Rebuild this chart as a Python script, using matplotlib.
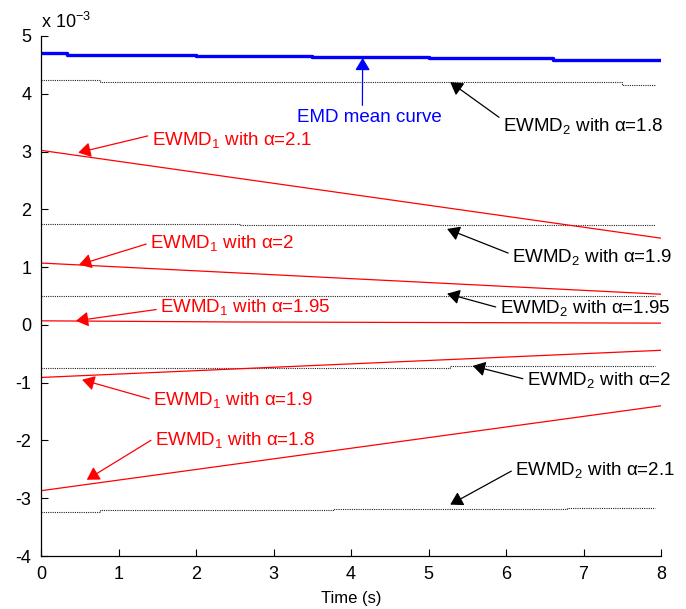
import matplotlib
matplotlib.use("Agg")
import matplotlib.pyplot as plt

plt.rcParams['font.family'] = ['Liberation Sans', 'DejaVu Sans']
plt.rcParams['mathtext.fontset'] = 'custom'
plt.rcParams['mathtext.rm'] = 'Liberation Sans'
plt.rcParams['mathtext.it'] = 'Liberation Sans'
plt.rcParams['axes.unicode_minus'] = False

# values in units of 1e-3
emd_x = [0, 0.33, 2.0, 3.5, 5.0, 6.6, 8.0]
emd_y = [4.70, 4.67, 4.65, 4.63, 4.62, 4.59, 4.59]

ewmd2_18_x = [0, 0.76, 7.5, 7.92]
ewmd2_18_y = [4.24, 4.21, 4.15, 4.15]
ewmd2_19_x = [0, 2.57, 7.92]
ewmd2_19_y = [1.74, 1.72, 1.72]
ewmd2_195_x = [0, 7.92]
ewmd2_195_y = [0.50, 0.50]
ewmd2_2_x = [0, 5.28, 7.92]
ewmd2_2_y = [-0.74, -0.71, -0.71]
ewmd2_21_x = [0, 0.76, 3.77, 6.79, 7.92]
ewmd2_21_y = [-3.23, -3.21, -3.19, -3.17, -3.17]

ewmd1_x = [0, 8]
ewmd1_21_y = [3.02, 1.50]
ewmd1_2_y = [1.07, 0.53]
ewmd1_195_x = [0, 2.5, 8]
ewmd1_195_y = [0.07, 0.05, 0.03]
ewmd1_19_y = [-0.91, -0.44]
ewmd1_18_y = [-2.87, -1.40]

xticks = [0, 1, 2, 3, 4, 5, 6, 7, 8]
yticks = [-4, -3, -2, -1, 0, 1, 2, 3, 4, 5]

fig = plt.figure(figsize=(6.86, 6.09), dpi=100)
ax = fig.add_axes([0.0598, 0.087, 0.9038, 0.854])

ax.plot(emd_x, emd_y, color='#0000ff', lw=2.4, drawstyle='steps-post')
dot = dict(color='#222222', lw=0.8, linestyle=(0, (1, 1)), drawstyle='steps-post')
ax.plot(ewmd2_18_x, ewmd2_18_y, **dot)
ax.plot(ewmd2_19_x, ewmd2_19_y, **dot)
ax.plot(ewmd2_195_x, ewmd2_195_y, **dot)
ax.plot(ewmd2_2_x, ewmd2_2_y, **dot)
ax.plot(ewmd2_21_x, ewmd2_21_y, **dot)

red = dict(color='#ff0000', lw=0.9)
ax.plot(ewmd1_x, ewmd1_21_y, **red)
ax.plot(ewmd1_x, ewmd1_2_y, **red)
ax.plot(ewmd1_195_x, ewmd1_195_y, **red)
ax.plot(ewmd1_x, ewmd1_19_y, **red)
ax.plot(ewmd1_x, ewmd1_18_y, **red)

ax.set_xlim(0, 8)
ax.set_ylim(-4, 5)
ax.set_xticks(xticks)
ax.set_yticks(yticks)
ax.tick_params(direction='in', length=5, labelsize=13, width=0.8, pad=7)
for s in ['top', 'right']:
    ax.spines[s].set_visible(False)
for s in ['left', 'bottom']:
    ax.spines[s].set_linewidth(0.9)
ax.set_xlabel('Time (s)', fontsize=12, labelpad=6)

ax.text(0.0, 1.008, r'x 10$^{\mathregular{-3}}$', transform=ax.transAxes, fontsize=13,
        ha='left', va='bottom')

def ann(text, tip, txt, color, ha='left', relpos=(0.5, 0.5)):
    ax.annotate(text, xy=tip, xytext=txt, color=color, fontsize=13.5,
                ha=ha, va='center',
                arrowprops=dict(arrowstyle='-|>,head_length=0.75,head_width=0.45',
                                color=color, lw=0.9, shrinkA=1, shrinkB=0,
                                mutation_scale=10, relpos=relpos))

ann('EMD mean curve', (4.15, 4.62), (4.24, 3.58), '#0000ff', ha='center', relpos=(0.45, 1.0))
ann(r'EWMD$_2$ with $\alpha$=1.8', (5.28, 4.20), (5.96, 3.44), 'black', relpos=(0.0, 0.8))
ann(r'EWMD$_1$ with $\alpha$=2.1', (0.48, 2.98), (1.43, 3.20), '#ff0000', relpos=(0.0, 0.75))
ann(r'EWMD$_2$ with $\alpha$=1.9', (5.24, 1.66), (6.08, 1.18), 'black', relpos=(0.0, 0.6))
ann(r'EWMD$_1$ with $\alpha$=2', (0.49, 1.04), (1.41, 1.42), '#ff0000', relpos=(0.0, 0.5))
ann(r'EWMD$_2$ with $\alpha$=1.95', (5.24, 0.54), (5.92, 0.29), 'black', relpos=(0.0, 0.5))
ann(r'EWMD$_1$ with $\alpha$=1.95', (0.45, 0.07), (1.54, 0.31), '#ff0000', relpos=(0.0, 0.4))
ann(r'EWMD$_2$ with $\alpha$=2', (5.57, -0.71), (6.27, -0.95), 'black', relpos=(0.0, 0.5))
ann(r'EWMD$_1$ with $\alpha$=1.9', (0.53, -0.95), (1.45, -1.30), '#ff0000', relpos=(0.0, 0.5))
ann(r'EWMD$_1$ with $\alpha$=1.8', (0.59, -2.68), (1.47, -1.99), '#ff0000', relpos=(0.0, 0.6))
ann(r'EWMD$_2$ with $\alpha$=2.1', (5.28, -3.11), (6.12, -2.51), 'black', relpos=(0.0, 0.55))

fig.savefig('out.png', dpi=100)
